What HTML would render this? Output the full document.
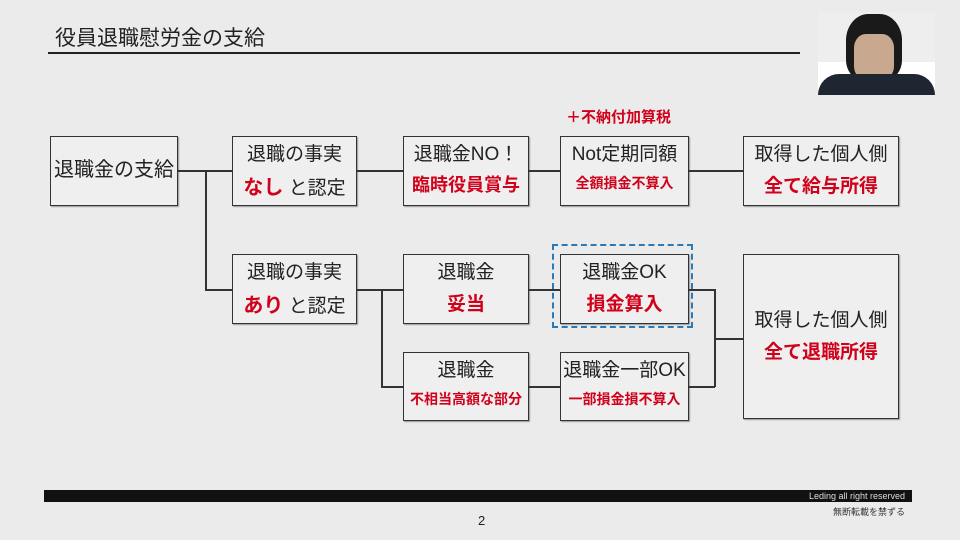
<!DOCTYPE html>
<html><head><meta charset="utf-8"><style>
body{margin:0;width:960px;height:540px;background:#ebebeb;position:relative;overflow:hidden;font-family:"Liberation Sans","Noto Sans CJK JP",sans-serif;}
.t{position:absolute;left:55px;top:22px;font-size:21px;color:#222;}
.ul{position:absolute;left:48px;top:52px;width:752px;height:2px;background:#222;}
.b{position:absolute;border:1.5px solid #333;box-sizing:border-box;background:#efefef;text-align:center;color:#222;box-shadow:1px 1px 1px #999;}
.b .l1{font-size:19px;line-height:32px;margin-top:2px}
.r{color:#d0021b;font-weight:bold;}
.h{position:absolute;background:#333;height:1.5px}
.v{position:absolute;background:#333;width:1.5px}
</style></head><body>
<div class="t">役員退職慰労金の支給</div>
<div class="ul"></div>
<div style="position:absolute;left:818px;top:12px;width:117px;height:83px;background:linear-gradient(#eee 0 60%,#fff 60%);">
<div style="position:absolute;left:28px;top:2px;width:56px;height:66px;background:#1a1a1a;border-radius:40% 40% 30% 30%"></div>
<div style="position:absolute;left:36px;top:22px;width:40px;height:46px;background:#c9a890;border-radius:30%"></div>
<div style="position:absolute;left:0;top:62px;width:117px;height:21px;background:#1e2632;border-radius:30px 30px 0 0"></div>
</div>

<div style="position:absolute;left:566px;top:106px;font-size:15px;" class="r">＋不納付加算税</div>

<div class="b" style="left:50px;top:136px;width:128px;height:70px;"><div style="font-size:20px;line-height:66px">退職金の支給</div></div>
<div class="b" style="left:232px;top:136px;width:125px;height:70px;"><div class="l1">退職の事実</div><div style="font-size:19px"><span class="r" style="font-size:20px">なし</span> と認定</div></div>
<div class="b" style="left:403px;top:136px;width:126px;height:70px;"><div class="l1">退職金NO！</div><div class="r" style="font-size:18px">臨時役員賞与</div></div>
<div class="b" style="left:560px;top:136px;width:129px;height:70px;"><div class="l1">Not定期同額</div><div class="r" style="font-size:14px;margin-top:2px">全額損金不算入</div></div>
<div class="b" style="left:743px;top:136px;width:156px;height:70px;"><div class="l1">取得した個人側</div><div class="r" style="font-size:19px">全て給与所得</div></div>

<div class="b" style="left:232px;top:254px;width:125px;height:70px;"><div class="l1">退職の事実</div><div style="font-size:19px"><span class="r" style="font-size:20px">あり</span> と認定</div></div>
<div class="b" style="left:403px;top:254px;width:126px;height:70px;"><div class="l1">退職金</div><div class="r" style="font-size:19px">妥当</div></div>
<div style="position:absolute;left:552px;top:244px;width:141px;height:84px;border:2.5px dashed #2a7ab5;box-sizing:border-box"></div>
<div class="b" style="left:560px;top:254px;width:129px;height:70px;"><div class="l1">退職金OK</div><div class="r" style="font-size:19px">損金算入</div></div>
<div class="b" style="left:743px;top:254px;width:156px;height:165px;"><div class="l1" style="margin-top:50px">取得した個人側</div><div class="r" style="font-size:19px">全て退職所得</div></div>

<div class="b" style="left:403px;top:352px;width:126px;height:69px;"><div class="l1">退職金</div><div class="r" style="font-size:14px;margin-top:2px">不相当高額な部分</div></div>
<div class="b" style="left:560px;top:352px;width:129px;height:69px;"><div class="l1">退職金一部OK</div><div class="r" style="font-size:14px;margin-top:2px">一部損金損不算入</div></div>

<div class="h" style="left:178px;top:170px;width:54px"></div>
<div class="v" style="left:205px;top:170px;height:120px"></div>
<div class="h" style="left:205px;top:289px;width:27px"></div>
<div class="h" style="left:357px;top:170px;width:46px"></div>
<div class="h" style="left:529px;top:170px;width:31px"></div>
<div class="h" style="left:689px;top:170px;width:54px"></div>
<div class="h" style="left:357px;top:289px;width:46px"></div>
<div class="v" style="left:381px;top:289px;height:98px"></div>
<div class="h" style="left:381px;top:386px;width:22px"></div>
<div class="h" style="left:529px;top:289px;width:31px"></div>
<div class="h" style="left:529px;top:386px;width:31px"></div>
<div class="h" style="left:689px;top:289px;width:26px"></div>
<div class="h" style="left:689px;top:386px;width:26px"></div>
<div class="v" style="left:714px;top:289px;height:98px"></div>
<div class="h" style="left:714px;top:338px;width:29px"></div>

<div style="position:absolute;left:44px;top:490px;width:868px;height:12px;background:#111"></div>
<div style="position:absolute;right:55px;top:490px;font-size:9px;color:#ddd;line-height:12px">Leding all right reserved</div>
<div style="position:absolute;right:55px;top:505px;font-size:9px;color:#333">無断転載を禁ずる</div>
<div style="position:absolute;left:478px;top:513px;font-size:13px;color:#222">2</div>
</body></html>
